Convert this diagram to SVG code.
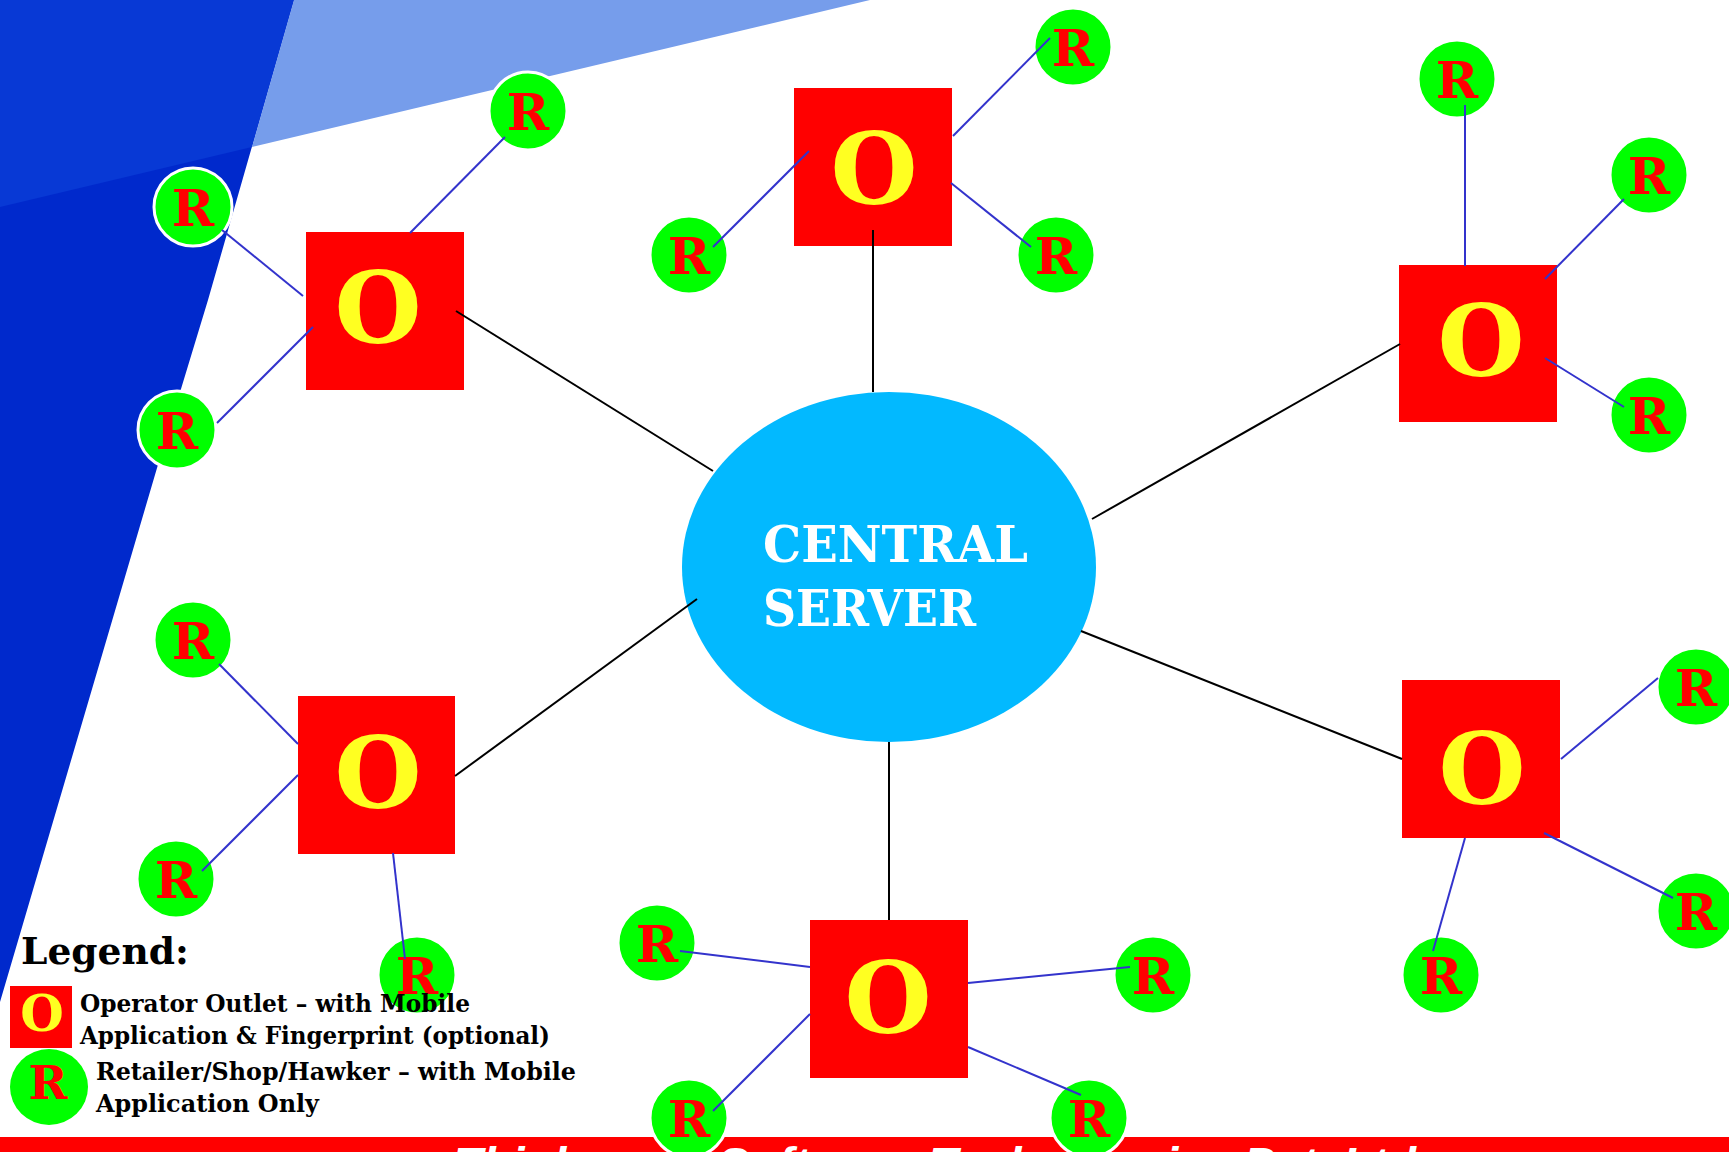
<svg xmlns="http://www.w3.org/2000/svg" width="1729" height="1152" viewBox="0 0 1729 1152">
<style>
.r{fill:#00FF00;stroke:#FFFFFF;stroke-width:3}
.o{fill:#FF0000}
.ot{font-family:"DejaVu Serif","Liberation Serif",serif;font-weight:bold;font-size:100px;fill:#FFFF21;text-anchor:middle}
.rt{font-family:"DejaVu Serif","Liberation Serif",serif;font-weight:bold;font-size:51px;fill:#FF0000;text-anchor:middle}
.bl{stroke:#3333CC;stroke-width:2;fill:none}
.bk{stroke:#000000;stroke-width:2;fill:none}
.lg{font-family:"DejaVu Serif","Liberation Serif",serif;font-weight:bold;fill:#000000}
.ct{font-family:"DejaVu Serif","Liberation Serif",serif;font-weight:bold;font-size:51px;fill:#FFFFFF}
</style>
<rect x="0" y="0" width="1729" height="1152" fill="#FFFFFF"/>
<g id="background">
<path d="M0,0 L294,0 L208,300 L157,468 L30,900 L0,1002 Z" fill="#0029CC"/>
<path d="M0,0 L294,0 L252,147 L0,207 Z" fill="#0839D5"/>
<path d="M294,0 L870,0 L252,147 Z" fill="#769DEB"/>
</g>
<g id="banner">
<rect x="0" y="1137" width="1729" height="15" fill="#FF0000"/>
<text x="454" y="1180" font-family="'Liberation Sans',Arial,sans-serif" font-weight="bold" font-style="italic" font-size="47" fill="#FFFFFF">Thinkcomp Software Technologies Pvt. Ltd.</text>
</g>
<g id="central-server">
<ellipse cx="889" cy="567" rx="207" ry="175" fill="#02B9FF"/>
<text class="ct" x="763" y="562" textLength="265" lengthAdjust="spacingAndGlyphs">CENTRAL</text>
<text class="ct" x="763" y="626" textLength="213" lengthAdjust="spacingAndGlyphs">SERVER</text>
</g>
<g id="outlet-tl"><rect class="o" x="306" y="232" width="158" height="158"/><text class="ot" x="378" y="343">O</text></g>
<g id="outlet-top"><rect class="o" x="794" y="88" width="158" height="158"/><text class="ot" x="874" y="204">O</text></g>
<g id="outlet-tr"><rect class="o" x="1399" y="265" width="158" height="157"/><text class="ot" x="1481" y="376">O</text></g>
<g id="outlet-lb"><rect class="o" x="298" y="696" width="157" height="158"/><text class="ot" x="378" y="808">O</text></g>
<g id="outlet-r"><rect class="o" x="1402" y="680" width="158" height="158"/><text class="ot" x="1482" y="804">O</text></g>
<g id="outlet-b"><rect class="o" x="810" y="920" width="158" height="158"/><text class="ot" x="888" y="1033">O</text></g>
<g id="r-tl-1"><circle class="r" cx="193" cy="207" r="39"/><text class="rt" x="193" y="226">R</text></g>
<g id="r-tl-2"><circle class="r" cx="528" cy="111" r="39"/><text class="rt" x="528" y="130">R</text></g>
<g id="r-tl-3"><circle class="r" cx="177" cy="430" r="39"/><text class="rt" x="177" y="449">R</text></g>
<g id="r-top-1"><circle class="r" cx="1073" cy="47" r="39"/><text class="rt" x="1073" y="66">R</text></g>
<g id="r-top-2"><circle class="r" cx="689" cy="255" r="39"/><text class="rt" x="689" y="274">R</text></g>
<g id="r-top-3"><circle class="r" cx="1056" cy="255" r="39"/><text class="rt" x="1056" y="274">R</text></g>
<g id="r-tr-1"><circle class="r" cx="1457" cy="79" r="39"/><text class="rt" x="1457" y="98">R</text></g>
<g id="r-tr-2"><circle class="r" cx="1649" cy="175" r="39"/><text class="rt" x="1649" y="194">R</text></g>
<g id="r-tr-3"><circle class="r" cx="1649" cy="415" r="39"/><text class="rt" x="1649" y="434">R</text></g>
<g id="r-lb-1"><circle class="r" cx="193" cy="640" r="39"/><text class="rt" x="193" y="659">R</text></g>
<g id="r-lb-2"><circle class="r" cx="176" cy="879" r="39"/><text class="rt" x="176" y="898">R</text></g>
<g id="r-lb-3"><circle class="r" cx="417" cy="975" r="39"/><text class="rt" x="417" y="994">R</text></g>
<g id="r-r-1"><circle class="r" cx="1696" cy="687" r="39"/><text class="rt" x="1696" y="706">R</text></g>
<g id="r-r-2"><circle class="r" cx="1696" cy="911" r="39"/><text class="rt" x="1696" y="930">R</text></g>
<g id="r-r-3"><circle class="r" cx="1441" cy="975" r="39"/><text class="rt" x="1441" y="994">R</text></g>
<g id="r-b-1"><circle class="r" cx="657" cy="943" r="39"/><text class="rt" x="657" y="962">R</text></g>
<g id="r-b-2"><circle class="r" cx="1153" cy="975" r="39"/><text class="rt" x="1153" y="994">R</text></g>
<g id="r-b-3"><circle class="r" cx="689" cy="1118" r="39"/><text class="rt" x="689" y="1137">R</text></g>
<g id="r-b-4"><circle class="r" cx="1089" cy="1118" r="39"/><text class="rt" x="1089" y="1137">R</text></g>
<g id="connectors">
<line class="bk" x1="456" y1="311" x2="713" y2="471"/>
<line class="bk" x1="873" y1="230" x2="873" y2="392"/>
<line class="bk" x1="1400" y1="344" x2="1092" y2="519"/>
<line class="bk" x1="455" y1="776" x2="697" y2="599"/>
<line class="bk" x1="1402" y1="759" x2="1081" y2="631"/>
<line class="bk" x1="889" y1="742" x2="889" y2="920"/>
<line class="bl" x1="222" y1="230" x2="303" y2="296"/>
<line class="bl" x1="505" y1="137" x2="410" y2="233"/>
<line class="bl" x1="217" y1="423" x2="313" y2="327"/>
<line class="bl" x1="1050" y1="38" x2="953" y2="136"/>
<line class="bl" x1="713" y1="247" x2="809" y2="151"/>
<line class="bl" x1="951" y1="183" x2="1031" y2="247"/>
<line class="bl" x1="1465" y1="105" x2="1465" y2="266"/>
<line class="bl" x1="1624" y1="199" x2="1545" y2="279"/>
<line class="bl" x1="1545" y1="358" x2="1624" y2="407"/>
<line class="bl" x1="219" y1="664" x2="298" y2="744"/>
<line class="bl" x1="202" y1="871" x2="298" y2="775"/>
<line class="bl" x1="393" y1="853" x2="405" y2="959"/>
<line class="bl" x1="1658" y1="678" x2="1561" y2="759"/>
<line class="bl" x1="1673" y1="898" x2="1544" y2="833"/>
<line class="bl" x1="1433" y1="951" x2="1465" y2="838"/>
<line class="bl" x1="680" y1="951" x2="810" y2="967"/>
<line class="bl" x1="1130" y1="967" x2="968" y2="983"/>
<line class="bl" x1="713" y1="1111" x2="810" y2="1014"/>
<line class="bl" x1="1081" y1="1095" x2="968" y2="1047"/>
</g>
<g id="legend">
<text class="lg" x="21" y="964" font-size="37" textLength="168" lengthAdjust="spacingAndGlyphs">Legend:</text>
<rect class="o" x="10" y="986" width="62" height="62"/>
<text x="42" y="1031" font-family="'DejaVu Serif','Liberation Serif',serif" font-weight="bold" font-size="50" fill="#FFFF21" text-anchor="middle">O</text>
<text class="lg" x="80" y="1012" font-size="24" textLength="390" lengthAdjust="spacingAndGlyphs">Operator Outlet – with Mobile</text>
<text class="lg" x="80" y="1044" font-size="24" textLength="470" lengthAdjust="spacingAndGlyphs">Application &amp; Fingerprint (optional)</text>
<ellipse cx="49" cy="1087" rx="39" ry="38" fill="#00FF00"/>
<text x="48" y="1099" font-family="'DejaVu Serif','Liberation Serif',serif" font-weight="bold" font-size="47" fill="#FF0000" text-anchor="middle">R</text>
<text class="lg" x="96" y="1080" font-size="24" textLength="480" lengthAdjust="spacingAndGlyphs">Retailer/Shop/Hawker – with Mobile</text>
<text class="lg" x="96" y="1112" font-size="24" textLength="223" lengthAdjust="spacingAndGlyphs">Application Only</text>
</g>
</svg>
